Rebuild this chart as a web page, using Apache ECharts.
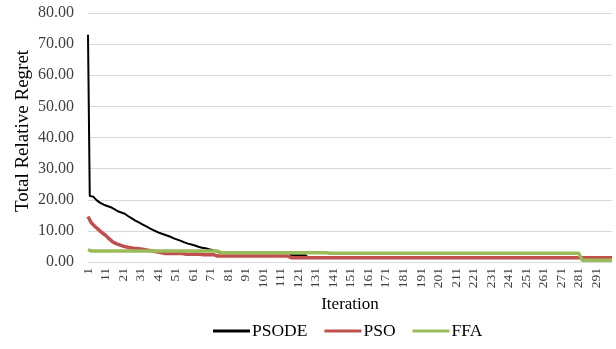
<!DOCTYPE html>
<html>
<head>
<meta charset="utf-8">
<script src="https://cdn.jsdelivr.net/npm/echarts@6/dist/echarts.min.js"></script>
<style>
html,body{margin:0;padding:0;background:#fff;}
#chart{width:616px;height:349px;}
</style>
</head>
<body>
<div id="chart"></div>
<script>
// Iterations 1..300
const iterations = [];
for (let i = 1; i <= 300; i++) iterations.push(String(i));

const yTicks = [0, 10, 20, 30, 40, 50, 60, 70, 80];

const psode = [
 73.0, 21.2, 21.2, 21.0, 20.8, 19.8, 19.3, 19.0, 18.7, 18.4,
 18.2, 18.0, 17.8, 17.6, 17.4, 17.0, 16.6, 16.3, 16.1, 15.9,
 15.7, 15.5, 15.1, 14.7, 14.4, 14.0, 13.7, 13.3, 13.0, 12.7,
 12.4, 12.1, 11.8, 11.5, 11.2, 10.9, 10.6, 10.3, 10.1, 9.8,
 9.6, 9.3, 9.1, 8.9, 8.7, 8.5, 8.3, 8.1, 7.8, 7.6,
 7.4, 7.2, 7.0, 6.8, 6.6, 6.3, 6.1, 5.9, 5.8, 5.6,
 5.4, 5.3, 5.1, 4.9, 4.8, 4.6, 4.5, 4.4, 4.3, 4.1,
 4.0, 3.9, 3.7, 3.5, 3.3, 2.9, 2.9, 2.9, 2.9, 2.9,
 2.9, 2.9, 2.9, 2.9, 2.9, 2.9, 2.9, 2.9, 2.9, 2.9,
 2.9, 2.9, 2.9, 2.9, 2.9, 2.9, 2.9, 2.9, 2.9, 2.9,
 2.9, 2.9, 2.9, 2.9, 2.9, 2.9, 2.9, 2.9, 2.9, 2.9,
 2.9, 2.9, 2.9, 2.9, 2.9, 2.9, 2.2, 2.2, 2.2, 2.2,
 2.2, 2.2, 2.2, 2.2, 2.2, 2.2, 1.3, 1.3, 1.3, 1.3,
 1.3, 1.3, 1.3, 1.3, 1.3, 1.3, 1.3, 1.3, 1.3, 1.3,
 1.3, 1.3, 1.3, 1.3, 1.3, 1.3, 1.3, 1.3, 1.3, 1.3,
 1.3, 1.3, 1.3, 1.3, 1.3, 1.3, 1.3, 1.3, 1.3, 1.3,
 1.3, 1.3, 1.3, 1.3, 1.3, 1.3, 1.3, 1.3, 1.3, 1.3,
 1.3, 1.3, 1.3, 1.3, 1.3, 1.3, 1.3, 1.3, 1.3, 1.3,
 1.3, 1.3, 1.3, 1.3, 1.3, 1.3, 1.3, 1.3, 1.3, 1.3,
 1.3, 1.3, 1.3, 1.3, 1.3, 1.3, 1.3, 1.3, 1.3, 1.3,
 1.3, 1.3, 1.3, 1.3, 1.3, 1.3, 1.3, 1.3, 1.3, 1.3,
 1.3, 1.3, 1.3, 1.3, 1.3, 1.3, 1.3, 1.3, 1.3, 1.3,
 1.3, 1.3, 1.3, 1.3, 1.3, 1.3, 1.3, 1.3, 1.3, 1.3,
 1.3, 1.3, 1.3, 1.3, 1.3, 1.3, 1.3, 1.3, 1.3, 1.3,
 1.3, 1.3, 1.3, 1.3, 1.3, 1.3, 1.3, 1.3, 1.3, 1.3,
 1.3, 1.3, 1.3, 1.3, 1.3, 1.3, 1.3, 1.3, 1.3, 1.3,
 1.3, 1.3, 1.3, 1.3, 1.3, 1.3, 1.3, 1.3, 1.3, 1.3,
 1.3, 1.3, 1.3, 1.3, 1.3, 1.3, 1.3, 1.3, 1.3, 1.3,
 1.3, 1.3, 1.3, 1.3, 1.3, 1.3, 1.3, 1.3, 1.3, 1.3,
 1.3, 1.3, 1.3, 1.3, 1.3, 1.3, 1.3, 1.3, 1.3, 1.3
];

const pso = [
 14.6, 13.5, 12.5, 12.0, 11.4, 11.0, 10.4, 10.0, 9.4, 9.0,
 8.6, 8.0, 7.5, 7.0, 6.5, 6.2, 5.9, 5.7, 5.5, 5.3,
 5.1, 5.0, 4.8, 4.7, 4.6, 4.5, 4.4, 4.3, 4.3, 4.2,
 4.2, 4.1, 4.0, 3.9, 3.8, 3.7, 3.6, 3.5, 3.4, 3.3,
 3.2, 3.1, 3.0, 2.9, 2.7, 2.7, 2.7, 2.7, 2.7, 2.7,
 2.7, 2.7, 2.7, 2.7, 2.7, 2.5, 2.5, 2.5, 2.5, 2.5,
 2.5, 2.5, 2.5, 2.5, 2.5, 2.5, 2.3, 2.3, 2.3, 2.3,
 2.3, 2.3, 2.3, 2.3, 1.9, 1.9, 1.9, 1.9, 1.9, 1.9,
 1.9, 1.9, 1.9, 1.9, 1.9, 1.9, 1.9, 1.9, 1.9, 1.9,
 1.9, 1.9, 1.9, 1.9, 1.9, 1.9, 1.9, 1.9, 1.9, 1.9,
 1.9, 1.9, 1.9, 1.9, 1.9, 1.9, 1.9, 1.9, 1.9, 1.9,
 1.9, 1.9, 1.9, 1.9, 1.9, 1.9, 1.4, 1.4, 1.4, 1.4,
 1.4, 1.4, 1.4, 1.4, 1.4, 1.4, 1.4, 1.4, 1.4, 1.4,
 1.4, 1.4, 1.4, 1.4, 1.4, 1.4, 1.4, 1.4, 1.4, 1.4,
 1.4, 1.4, 1.4, 1.4, 1.4, 1.4, 1.4, 1.4, 1.4, 1.4,
 1.4, 1.4, 1.4, 1.4, 1.4, 1.4, 1.4, 1.4, 1.4, 1.4,
 1.4, 1.4, 1.4, 1.4, 1.4, 1.4, 1.4, 1.4, 1.4, 1.4,
 1.4, 1.4, 1.4, 1.4, 1.4, 1.4, 1.4, 1.4, 1.4, 1.4,
 1.4, 1.4, 1.4, 1.4, 1.4, 1.4, 1.4, 1.4, 1.4, 1.4,
 1.4, 1.4, 1.4, 1.4, 1.4, 1.4, 1.4, 1.4, 1.4, 1.4,
 1.4, 1.4, 1.4, 1.4, 1.4, 1.4, 1.4, 1.4, 1.4, 1.4,
 1.4, 1.4, 1.4, 1.4, 1.4, 1.4, 1.4, 1.4, 1.4, 1.4,
 1.4, 1.4, 1.4, 1.4, 1.4, 1.4, 1.4, 1.4, 1.4, 1.4,
 1.4, 1.4, 1.4, 1.4, 1.4, 1.4, 1.4, 1.4, 1.4, 1.4,
 1.4, 1.4, 1.4, 1.4, 1.4, 1.4, 1.4, 1.4, 1.4, 1.4,
 1.4, 1.4, 1.4, 1.4, 1.4, 1.4, 1.4, 1.4, 1.4, 1.4,
 1.4, 1.4, 1.4, 1.4, 1.4, 1.4, 1.4, 1.4, 1.4, 1.4,
 1.4, 1.4, 1.4, 1.4, 1.4, 1.4, 1.4, 1.4, 1.4, 1.4,
 1.4, 1.4, 1.4, 1.4, 1.4, 1.4, 1.4, 1.4, 1.4, 1.4,
 1.4, 1.4, 1.4, 1.4, 1.4, 1.4, 1.4, 1.4, 1.4, 1.4
];

const ffa = [
 4.0, 3.6, 3.5, 3.5, 3.5, 3.5, 3.5, 3.5, 3.5, 3.5,
 3.5, 3.5, 3.5, 3.5, 3.5, 3.5, 3.5, 3.5, 3.5, 3.5,
 3.5, 3.5, 3.5, 3.5, 3.5, 3.5, 3.5, 3.5, 3.5, 3.5,
 3.5, 3.5, 3.5, 3.5, 3.5, 3.5, 3.5, 3.5, 3.5, 3.5,
 3.5, 3.5, 3.5, 3.5, 3.5, 3.5, 3.5, 3.5, 3.5, 3.5,
 3.5, 3.5, 3.5, 3.5, 3.5, 3.5, 3.5, 3.5, 3.5, 3.5,
 3.5, 3.5, 3.5, 3.5, 3.5, 3.5, 3.5, 3.5, 3.5, 3.5,
 3.5, 3.5, 3.5, 3.5, 3.5, 3.0, 3.0, 3.0, 3.0, 3.0,
 3.0, 3.0, 3.0, 3.0, 3.0, 3.0, 3.0, 3.0, 3.0, 3.0,
 3.0, 3.0, 3.0, 3.0, 3.0, 3.0, 3.0, 3.0, 3.0, 3.0,
 3.0, 3.0, 3.0, 3.0, 3.0, 3.0, 3.0, 3.0, 3.0, 3.0,
 3.0, 3.0, 3.0, 3.0, 3.0, 3.0, 3.0, 3.0, 3.0, 3.0,
 3.0, 3.0, 3.0, 3.0, 3.0, 3.0, 3.0, 3.0, 3.0, 3.0,
 3.0, 3.0, 3.0, 3.0, 3.0, 3.0, 3.0, 2.8, 2.8, 2.8,
 2.8, 2.8, 2.8, 2.8, 2.8, 2.8, 2.8, 2.8, 2.8, 2.8,
 2.8, 2.8, 2.8, 2.8, 2.8, 2.8, 2.8, 2.8, 2.8, 2.8,
 2.8, 2.8, 2.8, 2.8, 2.8, 2.8, 2.8, 2.8, 2.8, 2.8,
 2.8, 2.8, 2.8, 2.8, 2.8, 2.8, 2.8, 2.8, 2.8, 2.8,
 2.8, 2.8, 2.8, 2.8, 2.8, 2.8, 2.8, 2.8, 2.8, 2.8,
 2.8, 2.8, 2.8, 2.8, 2.8, 2.8, 2.8, 2.8, 2.8, 2.8,
 2.8, 2.8, 2.8, 2.8, 2.8, 2.8, 2.8, 2.8, 2.8, 2.8,
 2.8, 2.8, 2.8, 2.8, 2.8, 2.8, 2.8, 2.8, 2.8, 2.8,
 2.8, 2.8, 2.8, 2.8, 2.8, 2.8, 2.8, 2.8, 2.8, 2.8,
 2.8, 2.8, 2.8, 2.8, 2.8, 2.8, 2.8, 2.8, 2.8, 2.8,
 2.8, 2.8, 2.8, 2.8, 2.8, 2.8, 2.8, 2.8, 2.8, 2.8,
 2.8, 2.8, 2.8, 2.8, 2.8, 2.8, 2.8, 2.8, 2.8, 2.8,
 2.8, 2.8, 2.8, 2.8, 2.8, 2.8, 2.8, 2.8, 2.8, 2.8,
 2.8, 2.8, 2.8, 2.8, 2.8, 2.8, 2.8, 2.8, 2.8, 2.8,
 2.8, 2.8, 0.6, 0.6, 0.6, 0.6, 0.6, 0.6, 0.6, 0.6,
 0.6, 0.6, 0.6, 0.6, 0.6, 0.6, 0.6, 0.6, 0.6, 0.6
];

const seriesNames = ['PSODE', 'PSO', 'FFA'];
const seriesColors = ['#000000', '#C0504D', '#9BBB59'];
const seriesWidths = [2, 3.5, 3.5];
const seriesData = [psode, pso, ffa];

const FONT = '"Liberation Serif", "Times New Roman", serif';
const chart = echarts.init(document.getElementById('chart'), null, {renderer: 'canvas'});

chart.setOption({
  animation: false,
  backgroundColor: '#ffffff',
  textStyle: {fontFamily: FONT},
  grid: {left: 88, right: 4, top: 13, bottom: 87, containLabel: false},
  legend: {
    top: 322,
    left: 213,
    icon: 'rect',
    itemWidth: 37,
    itemHeight: 3,
    itemGap: 17,
    padding: 0,
    textStyle: {fontFamily: FONT, fontSize: 17.5, color: '#000000', padding: [0, 0, 0, -3]},
    data: seriesNames
  },
  xAxis: {
    type: 'category',
    data: iterations,
    boundaryGap: false,
    name: 'Iteration',
    nameLocation: 'middle',
    nameGap: 34,
    nameMoveOverlap: false,
    nameTextStyle: {fontFamily: FONT, fontSize: 17, color: '#000000'},
    axisLine: {lineStyle: {color: '#d9d9d9', width: 1}},
    axisTick: {show: false},
    axisLabel: {
      interval: 9,
      rotate: 90,
      margin: 6,
      fontFamily: FONT,
      fontSize: 13.5,
      color: '#404040'
    },
    splitLine: {show: false}
  },
  yAxis: {
    type: 'value',
    min: yTicks[0],
    max: yTicks[yTicks.length - 1],
    interval: 10,
    name: 'Total Relative Regret',
    nameLocation: 'middle',
    nameGap: 55,
    nameMoveOverlap: false,
    nameTextStyle: {fontFamily: FONT, fontSize: 19, color: '#000000', padding: [0, 0, 0, 13]},
    axisLine: {show: false},
    axisTick: {show: false},
    axisLabel: {
      margin: 14,
      fontFamily: FONT,
      fontSize: 16,
      color: '#404040',
      formatter: v => v.toFixed(2)
    },
    splitLine: {lineStyle: {color: '#d9d9d9', width: 1}}
  },
  series: seriesNames.map((n, i) => ({
    name: n,
    type: 'line',
    data: seriesData[i],
    showSymbol: false,
    symbol: 'none',
    color: seriesColors[i],
    lineStyle: {color: seriesColors[i], width: seriesWidths[i]},
    itemStyle: {color: seriesColors[i]}
  }))
});
</script>
</body>
</html>
